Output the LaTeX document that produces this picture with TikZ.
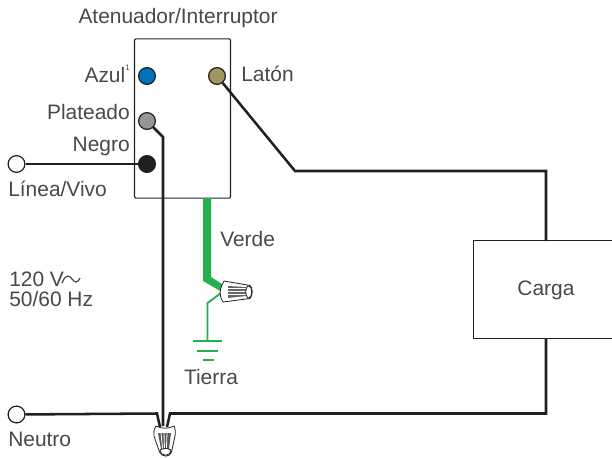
\documentclass[tikz,border=0pt]{standalone}
\usepackage{fontspec}
\setmainfont{Liberation Sans}
\definecolor{txt}{HTML}{484848}
\definecolor{wire}{HTML}{231F20}
\definecolor{gnd}{HTML}{22B14C}
\tikzset{
  lbl/.style={text=txt,font=\fontsize{15.7pt}{18pt}\selectfont,inner sep=0pt},
  wireline/.style={draw=wire,line width=1.9pt,line join=miter},
  term/.style={circle,draw=wire,line width=0.9pt,minimum size=12.6pt,inner sep=0pt},
  nutline/.style={draw=wire,line width=0.6pt,line join=round},
  gline/.style={draw=gnd,line width=1.4pt},
}
\begin{document}
\begin{tikzpicture}[x=0.75pt,y=-0.75pt]
\useasboundingbox (0,0) rectangle (612,458);
\node[draw=wire,line width=0.8pt,rounded corners=1pt,minimum width=72pt,minimum height=119.5pt,inner sep=0pt] (sw) at (182.5,118.5) {};
\node[draw=wire,line width=0.8pt,minimum width=105pt,minimum height=73pt,inner sep=0pt,anchor=west] (load) at (473,289.5) {};
\node[lbl] (cargatxt) at (546,290) {Carga};
\node[term,fill=white] (linea) at (16.5,164) {};
\node[term,fill=white] (neutro) at (16.5,414.5) {};
\node[term,fill=wire] (negro) at (147,164) {};
\node[term,fill={rgb,255:red,0;green,113;blue,188}] (azul) at (147,76) {};
\node[term,fill={rgb,255:red,147;green,149;blue,152}] (plata) at (147,121) {};
\node[term,fill={rgb,255:red,160;green,150;blue,96}] (laton) at (217,76) {};
\coordinate (a1) at (163,137);
\coordinate (a2) at (163,426);
\coordinate (b1) at (295,171);
\coordinate (b2) at (546,171);
\coordinate (b3) at (546,241);
\coordinate (c1) at (546,338);
\coordinate (c2) at (546,413.5);
\coordinate (c3) at (170,413.5);
\coordinate (c4) at (167,427);
\coordinate (d1) at (157,413.5);
\coordinate (d2) at (160,427);
\draw[wireline] (linea) -- (negro);
\draw[wireline] (plata) -- (a1) -- (a2);
\draw[wireline] (laton) -- (b1) -- (b2) -- (b3);
\draw[wireline] (c1) -- (c2) -- (c3) -- (c4);
\draw[wireline] (neutro) -- (d1) -- (d2);
% green wires
\fill[gnd] (203,198) -- (211,198) -- (211,277) -- (222,284) -- (222,292) -- (203,281) -- cycle;
\coordinate (g1) at (221,293);
\coordinate (g2) at (207.5,303);
\coordinate (g3) at (207.5,341);
\draw[gline] (g1) -- (g2) -- (g3);
\draw[draw=gnd,line width=2pt] (193,341) -- (222,341);
\draw[draw=gnd,line width=2pt] (197,351) -- (218,351);
\draw[draw=gnd,line width=2pt] (203,360) -- (214,360);
% green wire nut
\draw[nutline,fill=white] (224,281) .. controls (219,290) and (219,296) .. (223,302) -- (250,298.5) .. controls (253,295) and (253,288) .. (250,285.5) -- cycle;
\fill[black!60] (228,286) -- (246,287) -- (246,296) -- (228,298) -- cycle;
\foreach \y in {288.5,291.5,294.5}{\draw[white,line width=0.6pt] (228,\y) -- (246,\y);}
\draw[nutline,fill=white] (248,285.5) .. controls (245,289) and (245,295) .. (248,298.5) .. controls (253,298) and (253,286) .. (248,285.5) -- cycle;
% bottom wire nut
\draw[nutline,fill=white] (156,426) .. controls (153.5,430) and (153.5,433) .. (154,436) -- (159.5,452) .. controls (162,457.5) and (170,457.5) .. (171.5,452) -- (175,436) .. controls (175.5,433) and (175.5,429) .. (174,426) .. controls (168,429) and (162,429) .. (156,426) -- cycle;
\fill[black!65] (158,433) -- (171,433) -- (169,449) -- (161,449) -- cycle;
\foreach \x/\z in {161/162.6,164/164.5,167/166.4}{\draw[white,line width=0.6pt] (\x,433) -- (\z,449);}
\draw[nutline,fill=white] (160,450) .. controls (163,448) and (168,448) .. (171,450) .. controls (170,457) and (161,457) .. (160,450) -- cycle;
% labels
\node[lbl] (t0) at (178,18.5) {Atenuador/Interruptor};
\node[lbl,anchor=east] (t1) at (130,74) {Azul\raisebox{0.6em}{\fontsize{6pt}{6pt}\selectfont 1}};
\node[lbl,anchor=west] (t2) at (241,73.5) {Latón};
\node[lbl,anchor=east] (t3) at (130,112) {Plateado};
\node[lbl,anchor=east] (t4) at (130,146) {Negro};
\node[lbl,anchor=west] (t5) at (8,189) {Línea/Vivo};
\node[lbl,anchor=west] (t6) at (220,239) {Verde};
\node[lbl,anchor=west] (t7) at (9,279) {120 V};
\node[lbl,anchor=west] (t8) at (9,299) {50/60 Hz};
\node[lbl] (t9) at (211,377) {Tierra};
\node[lbl,anchor=west] (t10) at (8,439.5) {Neutro};
\draw[txt,line width=0.9pt] (62,283) .. controls (64,278) and (66,276) .. (68,276) .. controls (71,276) and (73,282) .. (76,282) .. controls (78,282) and (79,280) .. (80,278);
\end{tikzpicture}
\end{document}
